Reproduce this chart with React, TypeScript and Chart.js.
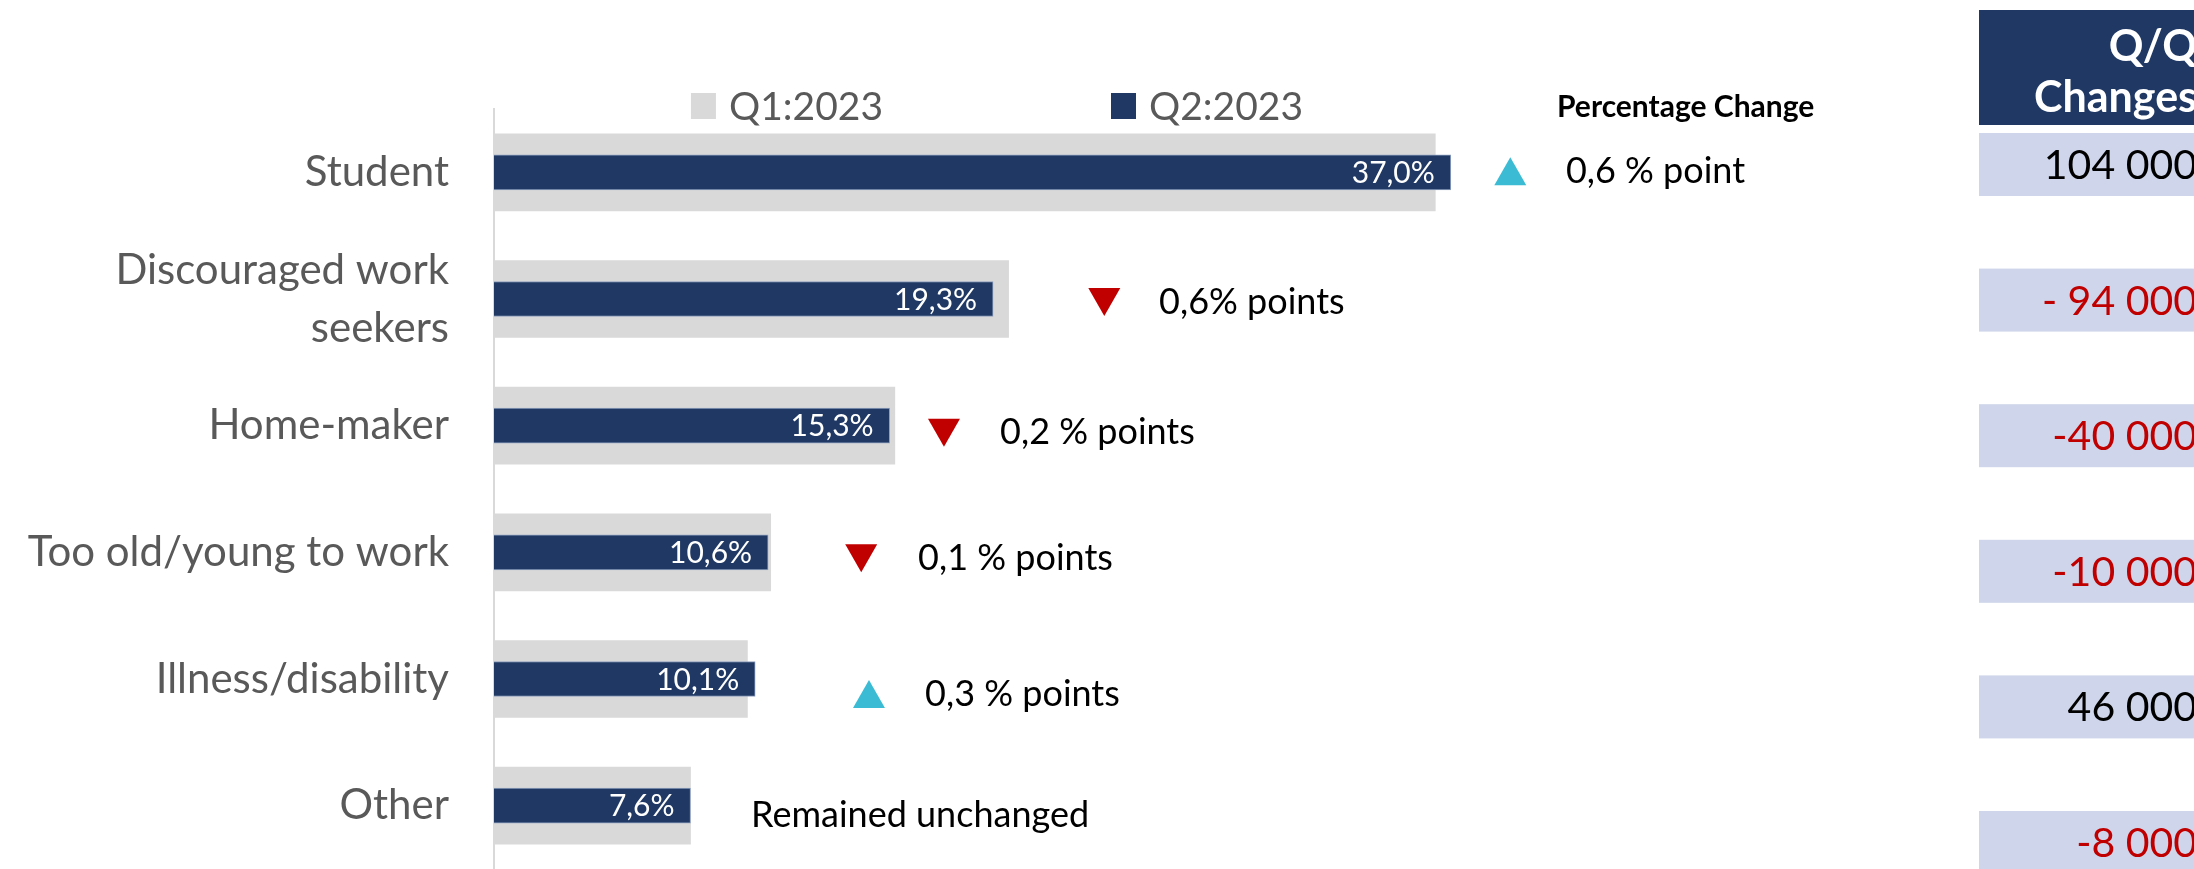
import React, { useEffect, useRef } from "react";
import { Chart, registerables } from "chart.js";

Chart.register(...registerables);

// ---------- data ----------
const categories: string[][] = [
  ["Student"],
  ["Discouraged work", "seekers"],
  ["Home-maker"],
  ["Too old/young to work"],
  ["Illness/disability"],
  ["Other"],
];
const seriesNames = ["Q1:2023", "Q2:2023"];
const q1Values = [36.4, 19.9, 15.5, 10.7, 9.8, 7.6];
const q2Values = [37.0, 19.3, 15.3, 10.6, 10.1, 7.6];
const changeTitle = "Percentage Change";
const changeLabels = [
  "0,6 % point",
  "0,6% points",
  "0,2 % points",
  "0,1 % points",
  "0,3 % points",
  "Remained unchanged",
];
const tableHeader = ["Q/Q", "Changes"];
const qqChanges = [104000, -94000, -40000, -10000, 46000, -8000];
const qqLabels = ["104 000", "- 94 000", "-40 000", "-10 000", "46 000", "-8 000"];

// ---------- layout / style constants ----------
const W = 2194;
const H = 869;
const FONT = "Lato, 'Open Sans', sans-serif";
const NAVY = "#1F3864";
const GREY = "#D9D9D9";
const LABEL_GREY = "#595959";
const RED = "#C00000";
const CYAN = "#3CBCD4";
const CELL = "#CFD5EA";
const X_MAX = 60;
// annotation anchors expressed in value-axis units, plus vertical nudges in px
const markerAt = [39.3, 23.6, 17.4, 14.2, 14.5, 0];
const noteAt = [41.45, 25.72, 19.57, 16.4, 16.67, 9.94];
const noteDy = [-1, 3, 7, 6, 15, 10];

const fmtPct = (v: number) => v.toFixed(1).replace(".", ",") + "%";

const overlayPlugin = {
  id: "overlay",
  afterDatasetsDraw(chart: any) {
    const ctx: CanvasRenderingContext2D = chart.ctx;
    const xs = chart.scales.x;
    const ys = chart.scales.y;
    ctx.save();

    // value labels inside Q2 bars
    const meta = chart.getDatasetMeta(1);
    ctx.font = `30px ${FONT}`;
    ctx.fillStyle = "#FFFFFF";
    ctx.textAlign = "right";
    ctx.textBaseline = "middle";
    meta.data.forEach((bar: any, i: number) => {
      ctx.fillText(fmtPct(q2Values[i]), bar.x - 16, bar.y + 1);
    });

    // legend
    const ds = chart.data.datasets;
    ctx.font = `39px ${FONT}`;
    const box = 25;
    const gapBox = 13;
    const gapItems = 228;
    const widths = ds.map((d: any) => box + gapBox + ctx.measureText(d.label).width);
    const total = widths.reduce((a: number, b: number) => a + b, 0) + gapItems * (ds.length - 1);
    let lx = 997 - total / 2;
    const ly = 106;
    ds.forEach((d: any, i: number) => {
      ctx.fillStyle = d.backgroundColor;
      ctx.fillRect(lx, ly - 13, box, 26);
      ctx.fillStyle = LABEL_GREY;
      ctx.textAlign = "left";
      ctx.textBaseline = "middle";
      ctx.fillText(d.label, lx + box + gapBox, ly + 1);
      lx += widths[i] + gapItems;
    });

    // percentage change title
    ctx.font = `bold 30px ${FONT}`;
    ctx.fillStyle = "#000";
    ctx.textAlign = "left";
    ctx.textBaseline = "middle";
    ctx.fillText(changeTitle, 1557, 107);

    // markers and change notes
    categories.forEach((_, i) => {
      const cy = ys.getPixelForValue(i) + noteDy[i];
      const diff = q2Values[i] - q1Values[i];
      if (Math.abs(diff) > 1e-9) {
        const cx = xs.getPixelForValue(markerAt[i]);
        ctx.beginPath();
        if (diff > 0) {
          ctx.fillStyle = CYAN;
          ctx.moveTo(cx, cy - 14);
          ctx.lineTo(cx + 16, cy + 14);
          ctx.lineTo(cx - 16, cy + 14);
        } else {
          ctx.fillStyle = RED;
          ctx.moveTo(cx - 16, cy - 14);
          ctx.lineTo(cx + 16, cy - 14);
          ctx.lineTo(cx, cy + 14);
        }
        ctx.closePath();
        ctx.fill();
      }
      ctx.font = `36px ${FONT}`;
      ctx.fillStyle = "#000";
      ctx.textAlign = "left";
      ctx.textBaseline = "middle";
      ctx.fillText(changeLabels[i], xs.getPixelForValue(noteAt[i]), cy);
    });

    // Q/Q changes table
    const colLeft = 1979;
    const textRight = 2197;
    ctx.fillStyle = NAVY;
    ctx.fillRect(colLeft, 10, W - colLeft, 115);
    ctx.fillStyle = "#FFFFFF";
    ctx.font = `bold 43px ${FONT}`;
    ctx.textAlign = "right";
    ctx.textBaseline = "alphabetic";
    ctx.fillText(tableHeader[0], textRight, 61);
    ctx.fillText(tableHeader[1], textRight, 112);
    qqChanges.forEach((v, i) => {
      const top = 133 + i * 135.6;
      ctx.fillStyle = CELL;
      ctx.fillRect(colLeft, top, W - colLeft, 63);
      ctx.fillStyle = v < 0 ? RED : "#000";
      ctx.font = `41px ${FONT}`;
      ctx.textAlign = "right";
      ctx.textBaseline = "alphabetic";
      ctx.fillText(qqLabels[i], textRight, top + 46);
    });

    ctx.restore();
  },
};

export default function App() {
  const ref = useRef<HTMLCanvasElement | null>(null);

  useEffect(() => {
    document.body.style.margin = "0";
    document.body.style.overflow = "hidden";
    const canvas = ref.current;
    if (!canvas) return;
    const chart = new Chart(canvas, {
      type: "bar",
      data: {
        labels: categories as any,
        datasets: [
          {
            label: seriesNames[0],
            data: q1Values,
            backgroundColor: GREY,
            barThickness: 77,
            grouped: false,
            order: 1,
          },
          {
            label: seriesNames[1],
            data: q2Values,
            backgroundColor: NAVY,
            borderColor: "#8FA0BF",
            borderWidth: 1,
            barThickness: 35,
            grouped: false,
            order: 0,
          },
        ],
      },
      options: {
        indexAxis: "y",
        responsive: false,
        animation: false,
        devicePixelRatio: 1,
        layout: { padding: { left: 0, top: 109, right: W - 494 - X_MAX * 25.86, bottom: -3 } },
        plugins: {
          legend: { display: false },
          tooltip: { enabled: false },
        },
        scales: {
          x: {
            display: false,
            min: 0,
            max: X_MAX,
          },
          y: {
            grid: { display: false, drawTicks: false },
            border: { display: true, color: GREY, width: 2 },
            afterFit: (scale: any) => {
              scale.width = 494;
              scale.paddingTop = 0;
              scale.paddingBottom = 0;
            },
            ticks: {
              padding: 45,
              color: LABEL_GREY,
              font: { family: FONT, size: 42, lineHeight: 1.38 },
            },
          },
        },
      },
      plugins: [overlayPlugin],
    });
    return () => chart.destroy();
  }, []);

  return (
    <div style={{ position: "relative", width: W, height: H }}>
      <canvas ref={ref} width={W} height={H} style={{ display: "block" }} />
    </div>
  );
}
